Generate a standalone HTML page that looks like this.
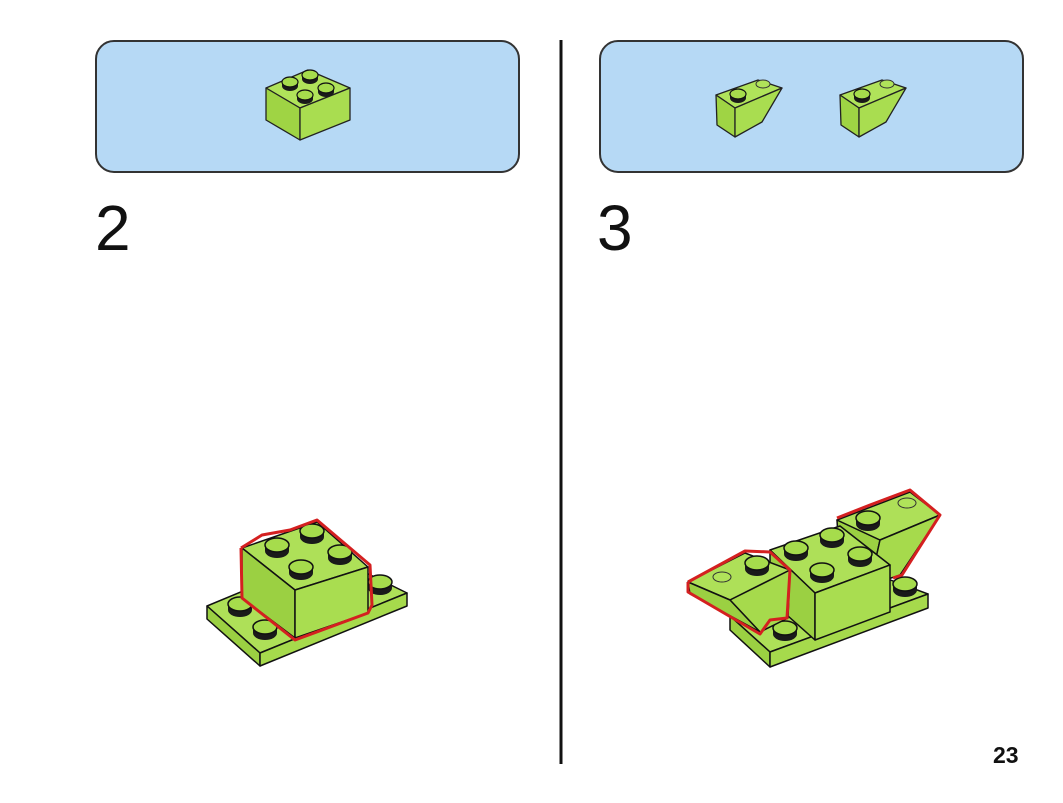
<!DOCTYPE html>
<html><head><meta charset="utf-8"><style>
html,body{margin:0;padding:0;background:#fff}
body{width:1063px;height:803px;position:relative;overflow:hidden;font-family:"Liberation Sans",sans-serif}
.num{position:absolute;font-size:64px;color:#111;line-height:1}
</style></head><body>
<svg width="1063" height="803" style="position:absolute;left:0;top:0">
<defs>
<g id="stud">
<ellipse cx="0" cy="6" rx="12" ry="7" fill="#1a1a1a"/>
<rect x="-12" y="0" width="24" height="6" fill="#1a1a1a"/>
<ellipse cx="0" cy="0" rx="12" ry="7" fill="#a6dc4c" stroke="#111" stroke-width="1.5"/>
</g>
<g id="sstud">
<ellipse cx="0" cy="4" rx="8" ry="5" fill="#1a1a1a"/>
<rect x="-8" y="0" width="16" height="4" fill="#1a1a1a"/>
<ellipse cx="0" cy="0" rx="8" ry="5" fill="#a6dc4c" stroke="#111" stroke-width="1.2"/>
</g>
</defs>
<rect x="96" y="41" width="423" height="131" rx="18" fill="#b6d9f5" stroke="#333" stroke-width="2"/>
<rect x="600" y="41" width="423" height="131" rx="18" fill="#b6d9f5" stroke="#333" stroke-width="2"/>
<line x1="561" y1="40" x2="561" y2="764" stroke="#111" stroke-width="3"/>

<g stroke="#222" stroke-width="1.3" stroke-linejoin="round">
<polygon points="266,88 308,70 350,88 300,108" fill="#b0e35a"/>
<polygon points="266,88 300,108 300,140 266,120" fill="#9fd444"/>
<polygon points="300,108 350,88 350,120 300,140" fill="#a9dd50"/>
</g>
<use href="#sstud" x="290" y="82"/><use href="#sstud" x="310" y="75"/><use href="#sstud" x="326" y="88"/><use href="#sstud" x="305" y="95"/>

<g stroke="#222" stroke-width="1.3" stroke-linejoin="round">
<polygon points="716,95 758,80 782,88 735,108" fill="#b0e35a"/>
<polygon points="716,95 735,108 735,137 717,125" fill="#9fd444"/>
<polygon points="735,108 782,88 762,122 735,137" fill="#a9dd50"/>
<polygon points="840,95 882,80 906,88 859,108" fill="#b0e35a"/>
<polygon points="840,95 859,108 859,137 841,125" fill="#9fd444"/>
<polygon points="859,108 906,88 886,122 859,137" fill="#a9dd50"/>
</g>
<use href="#sstud" x="738" y="94"/><use href="#sstud" x="862" y="94"/>
<ellipse cx="763" cy="84" rx="7" ry="4" fill="#b0e35a" stroke="#333"/>
<ellipse cx="887" cy="84" rx="7" ry="4" fill="#b0e35a" stroke="#333"/>

<g stroke="#111" stroke-width="1.5" stroke-linejoin="round">
<polygon points="207,606 330,555 407,593 260,653" fill="#aee058"/>
<polygon points="207,606 260,653 260,666 207,619" fill="#9bd042"/>
<polygon points="260,653 407,593 407,606 260,666" fill="#a6da4c"/>
</g>
<use href="#stud" x="240" y="604"/><use href="#stud" x="265" y="627"/><use href="#stud" x="380" y="582"/>
<g stroke="#111" stroke-width="1.5" stroke-linejoin="round">
<polygon points="242,548 317,522 368,567 295,590" fill="#aee058"/>
<polygon points="242,548 295,590 295,638 242,598" fill="#9bd042"/>
<polygon points="295,590 368,567 368,613 295,638" fill="#a9dd50"/>
</g>
<use href="#stud" x="277" y="545"/><use href="#stud" x="312" y="531"/><use href="#stud" x="340" y="552"/><use href="#stud" x="301" y="567"/>
<polyline points="241,548 262,535 290,530 317,520 370,565 372,605 368,613 295,640 242,598 241,548" fill="none" stroke="#d42020" stroke-width="3" stroke-linejoin="round"/>

<g stroke="#111" stroke-width="1.5" stroke-linejoin="round">
<polygon points="730,616 850,565 928,594 770,652" fill="#aee058"/>
<polygon points="730,616 770,652 770,667 730,630" fill="#9bd042"/>
<polygon points="770,652 928,594 928,608 770,667" fill="#a6da4c"/>
</g>
<use href="#stud" x="785" y="628"/><use href="#stud" x="905" y="584"/>
<g stroke="#111" stroke-width="1.5" stroke-linejoin="round">
<polygon points="837,520 880,540 870,585 840,570" fill="#9bd042"/>
<polygon points="837,520 910,492 940,515 880,540" fill="#aee058"/>
<polygon points="880,540 940,515 900,575 870,585" fill="#a6da4c"/>
</g>
<use href="#stud" x="868" y="518"/>
<ellipse cx="907" cy="503" rx="9" ry="5" fill="#b0e35a" stroke="#333"/>
<g stroke="#111" stroke-width="1.5" stroke-linejoin="round">
<polygon points="770,550 840,526 890,565 815,593" fill="#aee058"/>
<polygon points="770,550 815,593 815,640 770,600" fill="#9bd042"/>
<polygon points="815,593 890,565 890,612 815,640" fill="#a9dd50"/>
</g>
<use href="#stud" x="796" y="548"/><use href="#stud" x="832" y="535"/><use href="#stud" x="860" y="554"/><use href="#stud" x="822" y="570"/>
<g stroke="#111" stroke-width="1.5" stroke-linejoin="round">
<polygon points="688,582 745,553 790,570 730,600" fill="#aee058"/>
<polygon points="730,600 790,570 788,618 760,632" fill="#a6da4c"/>
<polygon points="688,582 730,600 760,632 690,594" fill="#9bd042"/>
</g>
<use href="#stud" x="757" y="563"/>
<ellipse cx="722" cy="577" rx="9" ry="5" fill="#b0e35a" stroke="#333"/>
<polyline points="688,582 745,551 770,552 790,570 787,618 770,620 760,634 688,592 688,582" fill="none" stroke="#d42020" stroke-width="3" stroke-linejoin="round"/>
<polyline points="837,518 870,505 910,490 940,515 902,575 893,578" fill="none" stroke="#d42020" stroke-width="3" stroke-linejoin="round"/>
</svg>
<div class="num" style="left:95px;top:196px">2</div>
<div class="num" style="left:597px;top:196px">3</div>
<div style="position:absolute;left:993px;top:742px;font-size:23px;font-weight:bold;color:#111">23</div>
</body></html>
